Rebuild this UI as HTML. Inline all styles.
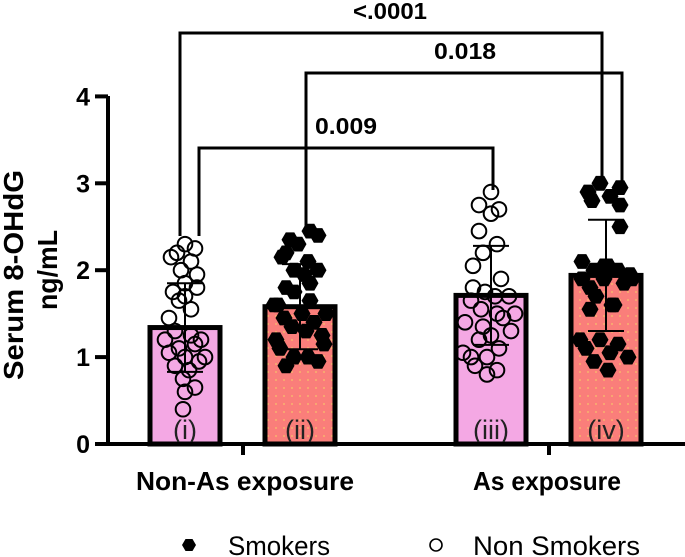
<!DOCTYPE html>
<html><head><meta charset="utf-8"><style>
body{margin:0;background:#fff;width:685px;height:557px;overflow:hidden}
svg{display:block;font-family:"Liberation Sans",Arial,sans-serif}
</style></head><body>
<svg id="chart" width="685" height="557" viewBox="0 0 685 557">
<defs>
<pattern id="dots" width="8" height="8" patternUnits="userSpaceOnUse"><rect width="8" height="8" fill="#fa7e7a"/><circle cx="4" cy="4" r="0.9" fill="#f7c36a"/></pattern>
</defs>
<g id="bars"></g><g id="pts"></g><g id="errs"></g>
<g id="axes" stroke="#000" stroke-width="4" fill="none">
<line x1="108" y1="96" x2="108" y2="445"/>
<line x1="106" y1="444" x2="685" y2="444"/>
</g>
<g id="ticks"></g>
<g font-weight="bold" font-size="26" text-anchor="middle">
<text x="245" y="490" textLength="218" lengthAdjust="spacingAndGlyphs">Non-As exposure</text>
<text x="547" y="490" textLength="148" lengthAdjust="spacingAndGlyphs">As exposure</text>
<text transform="translate(23,275) rotate(-90)" font-size="28" textLength="210" lengthAdjust="spacingAndGlyphs">Serum 8-OHdG</text>
<text transform="translate(57,270) rotate(-90)" font-size="28" textLength="80" lengthAdjust="spacingAndGlyphs">ng/mL</text>
</g>
<g id="brackets" stroke="#000" stroke-width="3" fill="none">
<polyline points="180,236 180,33 602,33 602,182"/>
<polyline points="306,226 306,73 622,73 622,182"/>
<polyline points="199,236 199,148 493,148 493,190"/>
</g>
<g font-weight="bold" font-size="23" text-anchor="middle">
<text x="390" y="19" textLength="74" lengthAdjust="spacingAndGlyphs">&lt;.0001</text>
<text x="465" y="59" textLength="62" lengthAdjust="spacingAndGlyphs">0.018</text>
<text x="346" y="134" textLength="62" lengthAdjust="spacingAndGlyphs">0.009</text>
</g>
<g>
<polygon points="196,545 192.5,551 185.5,551 182,545 185.5,539 192.5,539" fill="#000"/>
<text x="228" y="555" font-size="27" textLength="102" lengthAdjust="spacingAndGlyphs">Smokers</text>
<circle cx="436" cy="545" r="6" fill="none" stroke="#000" stroke-width="1.6"/>
<text x="473" y="555" font-size="27" textLength="167" lengthAdjust="spacingAndGlyphs">Non Smokers</text>
</g>
</svg>
<script>
const categories=["(i)","(ii)","(iii)","(iv)"];
const means=[1.34,1.58,1.71,1.94];
const sds=[0.51,0.49,0.57,0.64];
const yTicks=[0,1,2,3,4];
const g1=[2.3,2.2,2.25,2.15,2.1,2.0,1.95,1.85,1.75,1.8,1.7,1.65,1.55,1.45,1.3,1.25,1.2,1.1,1.15,1.05,1.0,0.95,0.9,0.85,0.75,0.6,0.65,0.4,1.2,1.0];
const j1=[0,-8,10,-14,6,-4,12,0,-12,12,0,-6,6,-16,-10,6,16,-6,10,-16,0,14,-10,4,-2,0,10,-2,-20,20];
const g2=[2.45,2.35,2.4,2.3,2.2,2.1,2.15,2.0,2.0,1.95,1.85,1.8,1.75,1.65,1.6,1.5,1.45,1.4,1.35,1.3,1.25,1.1,1.0,1.0,0.95,0.9,1.15,1.2,1.5,1.6];
const j2=[10,-10,18,-2,-14,8,-18,-6,18,4,10,-14,-6,10,-22,2,-16,14,-8,6,22,-20,-6,8,18,-14,24,-24,26,-26];
const g3=[2.9,2.75,2.7,2.65,2.45,2.3,2.2,2.05,1.9,1.8,1.75,1.7,1.7,1.65,1.55,1.5,1.45,1.35,1.3,1.25,1.2,1.1,1.0,0.9,0.85,0.8,1.05,1.4,1.5,1.0];
const j3=[0,-12,8,0,-12,6,-8,-18,10,-18,-6,4,18,-20,-10,6,12,-8,20,0,-12,8,-4,-16,6,-4,-28,-26,24,-20];
const g4=[3.0,2.95,2.9,2.85,2.8,2.75,2.5,2.1,2.05,2.0,2.0,1.95,1.9,1.9,1.85,1.8,1.7,1.6,1.55,1.2,1.15,1.1,1.05,1.0,0.95,0.85,1.2,1.9,1.6,2.05];
const j4=[-6,14,-18,4,-14,14,14,-24,2,-12,12,24,-24,-2,18,-16,-10,6,-16,-6,12,-20,4,22,-12,2,-26,26,8,-2];
const pointSets=[g1,g2,g3,g4];
const jitters=[j1,j2,j3,j4];
const smoker=[false,true,false,true];
const centers=[185,300,491,606];
const fills=["#f4a8e4","url(#dots)","#f4a8e4","url(#dots)"];
const y=v=>444-v*86.9;
const NS="http://www.w3.org/2000/svg";
function mk(tag,at,parent){const e=document.createElementNS(NS,tag);for(const k in at)e.setAttribute(k,at[k]);parent.appendChild(e);return e;}
const bars=document.getElementById('bars'),pts=document.getElementById('pts'),errs=document.getElementById('errs'),ticks=document.getElementById('ticks');
yTicks.forEach(t=>{
 const l=mk('line',{x1:95,x2:108,y1:y(t),y2:y(t),stroke:'#000','stroke-width':4},ticks);
 
 
 const tx=mk('text',{x:90,y:y(t)+9,'text-anchor':'end','font-weight':'bold','font-size':25},ticks);
 tx.textContent=t;
 
 
});
[243,549].forEach(x=>{const l=mk('line',{x1:x,x2:x,y1:444,y2:455,stroke:'#000','stroke-width':4},ticks);
 
 });
categories.forEach((c,i)=>{
 const cx=centers[i],w=70;
 const r=mk('rect',{x:cx-w/2,y:y(means[i]),width:w,height:444-y(means[i]),fill:fills[i],stroke:'#000','stroke-width':5},bars);
 
 
 const t=mk('text',{x:cx,y:439,'text-anchor':'middle','font-size':27,fill:'#222'},bars);
 t.textContent=c;
 
 
 pointSets[i].forEach((v,k)=>{
  const px=cx+jitters[i][k],py=y(v);let p;
  if(smoker[i]){const rr=8.5;let s='';for(let a=0;a<6;a++){const an=a*Math.PI/3;s+=(px+rr*Math.cos(an)).toFixed(1)+','+(py+rr*Math.sin(an)).toFixed(1)+' ';}
   p=mk('polygon',{points:s,fill:'#000'},pts);}
  else p=mk('circle',{cx:px,cy:py,r:7.3,fill:'none',stroke:'#000','stroke-width':2},pts);
  
  
 });
 const hi=y(means[i]+sds[i]),lo=y(means[i]-sds[i]);
 const e=mk('path',{d:`M${cx},${lo}V${hi}M${cx-18},${hi}H${cx+18}M${cx-18},${lo}H${cx+18}`,stroke:'#000','stroke-width':2,fill:'none'},errs);
 
 
});
</script>
</body></html>
